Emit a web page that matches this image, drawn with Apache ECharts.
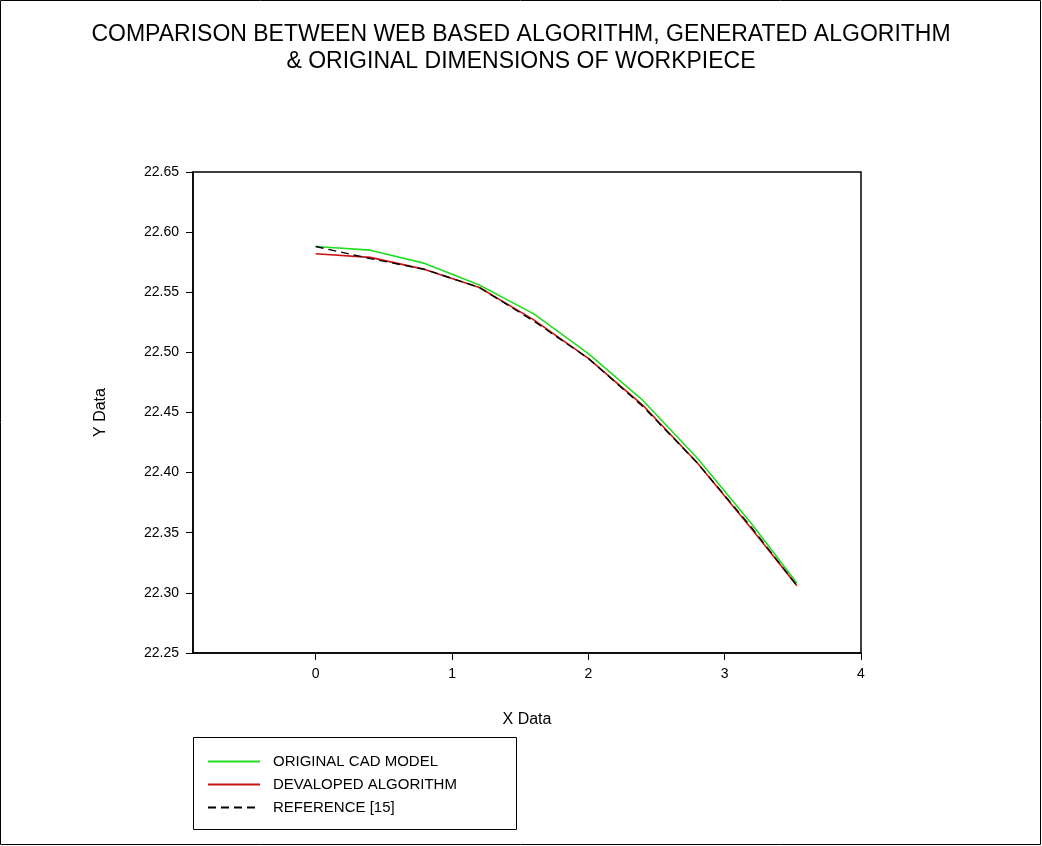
<!DOCTYPE html>
<html>
<head>
<meta charset="utf-8">
<script src="https://cdn.jsdelivr.net/npm/echarts@6/dist/echarts.min.js"></script>
<style>
  html, body { margin: 0; padding: 0; background: #fff; }
  #main { width: 1042px; height: 846px; }
</style>
</head>
<body>
<div id="main"></div>
<script>
// x positions of the points (same for all three curves)
const xData = [0, 0.4, 0.8, 1.2, 1.6, 2.0, 2.4, 2.8, 3.2, 3.53];
// original CAD model
const cadY = [22.588, 22.585, 22.574, 22.556, 22.532, 22.499, 22.460, 22.412, 22.357, 22.308];
// developed algorithm
const algoY = [22.582, 22.579, 22.569, 22.554, 22.527, 22.495, 22.456, 22.408, 22.353, 22.306];
// reference [15]
const refY = [22.588, 22.578, 22.569, 22.554, 22.526, 22.495, 22.455, 22.408, 22.354, 22.306];

const seriesNames = ['ORIGINAL CAD MODEL', 'DEVALOPED ALGORITHM', 'REFERENCE [15]'];
const xTicks = [0, 1, 2, 3, 4];

function pairs(ys) {
  return xData.map((x, i) => [x, ys[i]]);
}

const font = 'Arial, "Liberation Sans", sans-serif';

const chart = echarts.init(document.getElementById('main'));
const option = {
  animation: false,
  backgroundColor: '#fff',
  title: {
    text: 'COMPARISON BETWEEN WEB BASED ALGORITHM, GENERATED ALGORITHM\n& ORIGINAL DIMENSIONS OF WORKPIECE',
    left: 'center',
    top: 16,
    textStyle: {
      fontFamily: font,
      fontSize: 23,
      fontWeight: 'normal',
      color: '#000',
      lineHeight: 27
    }
  },
  graphic: [
    {
      type: 'rect',
      shape: { x: 0.5, y: 0.5, width: 1040, height: 844 },
      style: { fill: 'none', stroke: '#000', lineWidth: 1 }
    },
    {
      type: 'rect',
      shape: { x: 193.5, y: 737.5, width: 323, height: 92 },
      style: { fill: '#fff', stroke: '#000', lineWidth: 1 },
      z: 5
    }
  ],
  legend: {
    data: seriesNames,
    orient: 'vertical',
    left: 207,
    top: 754,
    itemWidth: 52,
    itemHeight: 14,
    itemGap: 8,
    padding: 0,
    z: 10,
    itemStyle: { opacity: 0 },
    textStyle: { fontFamily: font, fontSize: 15, color: '#000', padding: [0, 0, 0, 8] }
  },
  grid: {
    left: 193,
    right: 181,
    top: 172,
    bottom: 193,
    show: true,
    borderColor: '#000',
    borderWidth: 1.5,
    containLabel: false
  },
  xAxis: {
    type: 'value',
    min: -0.9,
    max: 4,
    name: 'X Data',
    nameLocation: 'middle',
    nameGap: 59,
    nameTextStyle: { fontFamily: font, fontSize: 16, color: '#000' },
    splitLine: { show: false },
    axisLine: { show: true, onZero: false, lineStyle: { color: '#000', width: 1.5 } },
    axisTick: { show: true, inside: false, length: 7, customValues: xTicks, lineStyle: { color: '#000' } },
    axisLabel: { customValues: xTicks, margin: 14, fontFamily: font, fontSize: 14, color: '#000' }
  },
  yAxis: {
    type: 'value',
    min: 22.25,
    max: 22.65,
    interval: 0.05,
    name: 'Y Data',
    nameLocation: 'middle',
    nameGap: 84,
    nameTextStyle: { fontFamily: font, fontSize: 16, color: '#000' },
    splitLine: { show: false },
    axisLine: { show: true, onZero: false, lineStyle: { color: '#000', width: 1.5 } },
    axisTick: { show: true, inside: false, length: 7, lineStyle: { color: '#000' } },
    axisLabel: {
      margin: 14,
      fontFamily: font,
      fontSize: 14,
      color: '#000',
      formatter: v => v.toFixed(2)
    }
  },
  series: [
    {
      name: seriesNames[0],
      type: 'line',
      data: pairs(cadY),
      symbol: 'none',
      lineStyle: { color: '#22dd22', width: 1.6 },
      itemStyle: { color: '#22dd22' },
      z: 2
    },
    {
      name: seriesNames[1],
      type: 'line',
      data: pairs(algoY),
      symbol: 'none',
      lineStyle: { color: '#cc1111', width: 1.6 },
      itemStyle: { color: '#cc1111' },
      z: 3
    },
    {
      name: seriesNames[2],
      type: 'line',
      data: pairs(refY),
      symbol: 'none',
      lineStyle: { color: '#000', width: 1.4, type: [8, 5] },
      itemStyle: { color: '#000' },
      z: 4
    }
  ]
};
chart.setOption(option);
</script>
</body>
</html>
